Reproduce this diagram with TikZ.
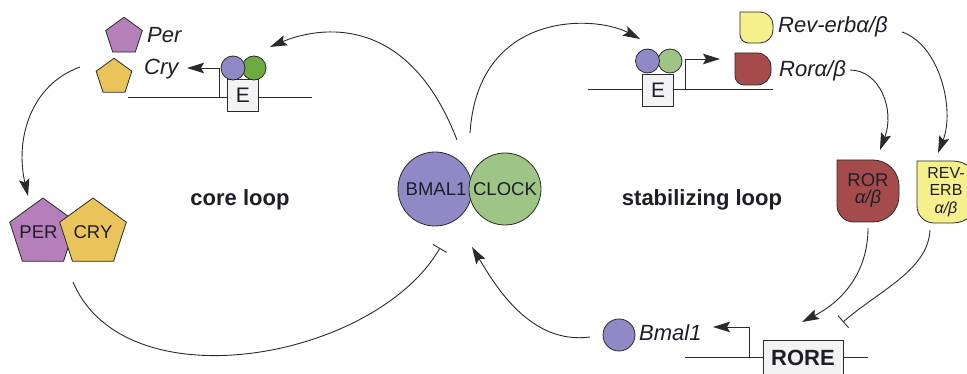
\documentclass[tikz,border=0pt]{standalone}
\usepackage{fontspec}
\setmainfont{Liberation Sans}
\usetikzlibrary{shapes.geometric,arrows.meta}
\definecolor{perpurple}{HTML}{B580B9}
\definecolor{cryyellow}{HTML}{E9C45A}
\definecolor{bmalblue}{HTML}{9189C6}
\definecolor{clockgreen}{HTML}{9EC585}
\definecolor{brightgreen}{HTML}{6CAB40}
\definecolor{revyellow}{HTML}{F5F08C}
\definecolor{rorred}{HTML}{A64B4B}
\definecolor{boxgray}{HTML}{F3F3F3}
\definecolor{linegray}{HTML}{2A2A2A}
\definecolor{txtc}{HTML}{1E1E2A}
% #1 colour, #2 cx, #3 cy, #4 half width, #5 half height, #6 big radius
\newcommand{\dropsh}[6]{%
\filldraw[fill=#1, draw=linegray, line width=0.8pt]
 ({#2-#4},{#3-#5}) -- ({#2+#4-#6},{#3-#5})
 .. controls ({#2+#4-0.45*#6},{#3-#5}) and ({#2+#4},{#3-#5+0.45*#6}) .. ({#2+#4},{#3-#5+#6})
 -- ({#2+#4},{#3+#5-#6})
 .. controls ({#2+#4},{#3+#5-0.45*#6}) and ({#2+#4-0.45*#6},{#3+#5}) .. ({#2+#4-#6},{#3+#5})
 -- ({#2-#4+0.65*#6},{#3+#5})
 .. controls ({#2-#4+0.29*#6},{#3+#5}) and ({#2-#4},{#3+#5-0.29*#6}) .. ({#2-#4},{#3+#5-0.65*#6})
 -- cycle;}
\begin{document}
\begin{tikzpicture}[x=1pt,y=-1pt,
  every node/.style={inner sep=0pt, text=txtc},
  conn/.style={draw=linegray, line width=0.9pt},
  arr/.style={conn, -{Stealth[length=17pt,width=10.5pt,inset=3pt]}},
  inh/.style={conn, -{Bar[width=16pt,line width=0.9pt]}},
  dna/.style={draw=linegray, line width=0.9pt},
  pent/.style={regular polygon, regular polygon sides=5, draw=linegray, line width=0.8pt},
  ball/.style={circle, draw=linegray, line width=0.8pt},
  ebox/.style={draw=linegray, fill=boxgray, line width=0.8pt, minimum width=31pt, minimum height=32pt, font=\fontsize{21}{21}\selectfont},
  lbl/.style={font=\fontsize{22}{24}\selectfont\itshape},
  ttl/.style={font=\fontsize{22}{24}\selectfont\bfseries},
  inlbl/.style={font=\fontsize{18.5}{20}\selectfont},
]
\useasboundingbox (0,0) rectangle (967,374);
\clip (0,0) rectangle (967,374);

% ---------- top-left gene (E-box -> Per/Cry)
\coordinate (d1a) at (128,97);
\coordinate (d1b) at (312,97);
\draw[dna] (d1a) -- (d1b);
\coordinate (p1) at (219,97);
\coordinate (p1t) at (187,68);
\draw[arr] (p1) |- (p1t);
\node[ebox] (e1) at (243,95.5) {E};
\node[ball, fill=brightgreen, minimum size=24pt] (cl1) at (254,68) {};
\node[ball, fill=bmalblue, minimum size=24pt] (bm1) at (233,68) {};

\node[pent, fill=perpurple, minimum size=38.5pt] (perS) at (124,36.5) {};
\node[pent, fill=cryyellow, minimum size=37.5pt] (cryS) at (114,77) {};
\node[lbl, anchor=base west] (perT) at (147,43) {Per};
\node[lbl, anchor=base west] (cryT) at (144,75) {Cry};

% ---------- PER / CRY proteins
\node[pent, fill=perpurple, minimum size=70pt] (PERb) at (43,233) {};
\node[pent, fill=cryyellow, minimum size=70pt] (CRYb) at (93,233) {};
\node[inlbl] (PERt) at (38.5,232) {PER};
\node[inlbl] (CRYt) at (93,232) {CRY};

% ---------- BMAL1 / CLOCK
\node[ball, fill=bmalblue, minimum size=74pt, inlbl] (bmal) at (435,189) {\hspace*{2pt}BMAL1};
\node[ball, fill=clockgreen, minimum size=72pt, inlbl] (clock) at (505,189) {CLOCK};

% ---------- top-right gene (E-box -> Rev-erb / Ror)
\coordinate (d2a) at (588,89);
\coordinate (d2b) at (773,89);
\draw[dna] (d2a) -- (d2b);
\coordinate (p2) at (685,89);
\coordinate (p2t) at (720,59);
\draw[arr] (p2) |- (p2t);
\node[ebox] (e2) at (658,90.5) {E};
\node[ball, fill=clockgreen, minimum size=24pt] (cl2) at (670,61) {};
\node[ball, fill=bmalblue, minimum size=24pt] (bm2) at (647.5,61) {};

\dropsh{revyellow}{756.5}{27.5}{16.5}{15.5}{13}
\node[minimum width=33pt, minimum height=31pt] (rvS) at (756.5,27.5) {};
\dropsh{rorred}{753}{69}{18}{16}{14}
\node[minimum width=36pt, minimum height=32pt] (rorS) at (753,69) {};
\node[lbl, anchor=base west] (rvT) at (778,33) {Rev-erbα/β};
\node[lbl, anchor=base west] (rorT) at (779,77) {Rorα/β};

% ---------- ROR / REV-ERB proteins
\dropsh{rorred}{868}{191}{31}{31}{26}
\node[align=center, font=\fontsize{18.5}{17}\selectfont] (RORb) at (868,190) {ROR\\\itshape α/β};
\dropsh{revyellow}{948}{192}{31}{31}{26}
\node[align=center, font=\fontsize{16}{17.5}\selectfont] (REVb) at (946,192) {REV-\\ERB\\\itshape α/β};

% ---------- bottom gene (RORE -> Bmal1)
\coordinate (d3a) at (685,357);
\coordinate (d3b) at (868,357);
\draw[dna] (d3a) -- (d3b);
\coordinate (p3) at (749,357);
\coordinate (p3t) at (713,327);
\draw[arr] (p3) |- (p3t);
\node[draw=linegray, fill=boxgray, line width=0.8pt, minimum width=80pt, minimum height=36pt, ttl] (rore) at (803,358) {RORE};
\node[ball, fill=bmalblue, minimum size=32pt] (bmS) at (619,335) {};
\node[lbl, anchor=base west] (bmT) at (639,340) {Bmal1};

% ---------- titles
\node[ttl, anchor=base] (core) at (240,206) {core loop};
\node[ttl, anchor=base] (stab) at (702,206) {stabilizing loop};

% ---------- connectors
\coordinate (c1s) at (457,140);
\coordinate (c1e) at (270,47);
\draw[arr] (c1s) .. controls (405,5) and (310,30) .. (c1e);
\coordinate (c2s) at (470,133);
\coordinate (c2e) at (640,39);
\draw[arr] (c2s) .. controls (478,10) and (595,15) .. (c2e);
\coordinate (c3s) at (80,67);
\coordinate (c3e) at (28,196);
\draw[arr] (c3s) .. controls (30,85) and (15,140) .. (c3e);
\coordinate (c4s) at (73,282);
\coordinate (c4e) at (440,248);
\draw[inh] (c4s) .. controls (125,405) and (375,360) .. (c4e);
\coordinate (c5s) at (590,337);
\coordinate (c5e) at (472,247);
\draw[arr] (c5s) .. controls (530,345) and (495,285) .. (c5e);
\coordinate (c6s) at (850,70);
\coordinate (c6e) at (880,150);
\draw[arr] (c6s) .. controls (880,70) and (895,110) .. (c6e);
\coordinate (c7s) at (902,32);
\coordinate (c7e) at (938,153);
\draw[arr] (c7s) .. controls (940,45) and (955,110) .. (c7e);
\coordinate (c8s) at (868,228);
\coordinate (c8e) at (802,322);
\draw[arr] (c8s) .. controls (868,270) and (845,300) .. (c8e);
\coordinate (c9s) at (930,230);
\coordinate (c9e) at (843,322);
\draw[inh] (c9s) .. controls (928,270) and (880,290) .. (c9e);
\end{tikzpicture}
\end{document}
